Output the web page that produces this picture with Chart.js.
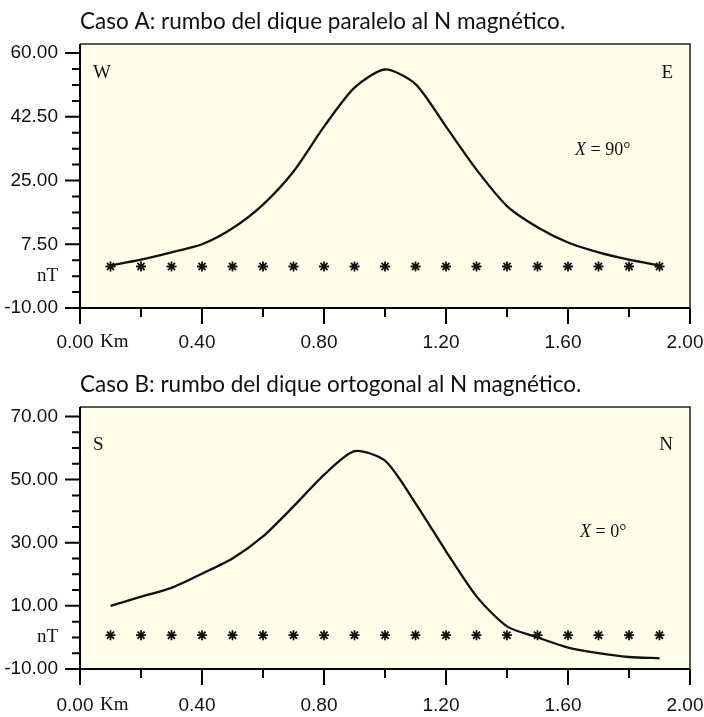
<!DOCTYPE html>
<html>
<head>
<meta charset="utf-8">
<script src="https://cdn.jsdelivr.net/npm/chart.js@4.4.1/dist/chart.umd.min.js"></script>
<style>
  body { margin: 0; background: #fff; }
  .wrap { position: absolute; left: 0; width: 704px; }
  canvas { display: block; }
</style>
</head>
<body>
<div class="wrap" style="top:0"><canvas id="chart-a" width="704" height="363"></canvas></div>
<div class="wrap" style="top:363px"><canvas id="chart-b" width="704" height="354"></canvas></div>
<script>
// distance along the profile (km)
const km = [0.1, 0.2, 0.3, 0.4, 0.5, 0.6, 0.7, 0.8, 0.9, 1.0, 1.1, 1.2, 1.3, 1.4, 1.5, 1.6, 1.7, 1.8, 1.9];

// Caso A: anomaly (nT)
const curveA = [1.7, 3.3, 5.3, 7.5, 11.9, 18.4, 27.5, 39.8, 50.5, 55.5, 51.5, 39.8, 28, 18, 12.2, 8, 5.3, 3.3, 1.7];
const starsA = [1.4, 1.4, 1.4, 1.4, 1.4, 1.4, 1.4, 1.4, 1.4, 1.4, 1.4, 1.4, 1.4, 1.4, 1.4, 1.4, 1.4, 1.4, 1.4];
const yTicksA = [-10, 7.5, 25, 42.5, 60];
const yMinorA = [-5.625, -1.25, 3.125, 11.875, 16.25, 20.625, 29.375, 33.75, 38.125, 46.875, 51.25, 55.625];

// Caso B: anomaly (nT)
const curveB = [10, 12.9, 15.7, 20.2, 25, 32, 41.5, 51.5, 59, 56, 42.5, 27.3, 13, 3.5, 0, -3.2, -5, -6.2, -6.6];
const starsB = [0.7, 0.7, 0.7, 0.7, 0.7, 0.7, 0.7, 0.7, 0.7, 0.7, 0.7, 0.7, 0.7, 0.7, 0.7, 0.7, 0.7, 0.7, 0.7];
const yTicksB = [-10, 10, 30, 50, 70];
const yMinorB = [-5, 0, 5, 15, 20, 25, 35, 40, 45, 55, 60, 65];

const xTicks = [0, 0.4, 0.8, 1.2, 1.6, 2.0];
const xMinor = [0.2, 0.6, 1.0, 1.4, 1.8];

const numFont = "'Liberation Sans', Arial, sans-serif";
const serif = "'Liberation Serif', 'DejaVu Serif', serif";
const paper = '#fffee8';

// plot background, box, tick marks and the small labels inside
const framePlugin = {
  id: 'frame',
  beforeDraw(chart) {
    const { ctx, chartArea: a } = chart;
    ctx.save();
    ctx.fillStyle = paper;
    ctx.fillRect(a.left, a.top, a.right - a.left, a.bottom - a.top);
    ctx.restore();
  },
  afterDraw(chart, args, o) {
    const { ctx, chartArea: a, scales: { x, y } } = chart;
    ctx.save();
    ctx.strokeStyle = '#222';
    ctx.lineWidth = 1.5;
    ctx.beginPath();
    ctx.moveTo(a.left, a.top); ctx.lineTo(a.right, a.top); ctx.lineTo(a.right, a.bottom);
    ctx.stroke();

    ctx.strokeStyle = '#000';
    ctx.lineWidth = 2;
    ctx.beginPath();
    ctx.moveTo(a.left, a.top); ctx.lineTo(a.left, a.bottom); ctx.lineTo(a.right, a.bottom);
    ctx.stroke();

    ctx.beginPath();
    o.yMajor.forEach(v => { const p = y.getPixelForValue(v); ctx.moveTo(a.left - 15, p); ctx.lineTo(a.left, p); });
    o.yMinor.forEach(v => { const p = y.getPixelForValue(v); ctx.moveTo(a.left - 8, p); ctx.lineTo(a.left + 1, p); });
    xTicks.forEach(v => { const p = x.getPixelForValue(v); ctx.moveTo(p, a.bottom); ctx.lineTo(p, a.bottom + 16); });
    xMinor.forEach(v => { const p = x.getPixelForValue(v); ctx.moveTo(p, a.bottom - 1); ctx.lineTo(p, a.bottom + 9); });
    ctx.stroke();

    ctx.fillStyle = '#111';
    ctx.font = '19px ' + serif;
    ctx.textBaseline = 'middle';
    ctx.textAlign = 'right';
    ctx.fillText('nT', a.left - 22, y.getPixelForValue(o.nT));
    ctx.textAlign = 'left';
    ctx.fillText('Km', a.left + 20, a.bottom + o.kmDy);

    ctx.textBaseline = 'alphabetic';
    ctx.font = '19px ' + serif;
    ctx.fillText(o.left, a.left + 13, a.top + o.cornerDy);
    ctx.textAlign = 'right';
    ctx.fillText(o.right, a.right - 17, a.top + o.cornerDy);

    ctx.textAlign = 'left';
    ctx.font = 'italic 18px ' + serif;
    ctx.fillText('X', a.left + o.angX, a.top + o.angDy);
    const w = ctx.measureText('X').width;
    ctx.font = '18px ' + serif;
    ctx.fillText(' = ' + o.angle, a.left + o.angX + w, a.top + o.angDy);
    ctx.restore();
  }
};

function makeChart(id, cfg) {
  const points = (ys) => km.map((k, i) => ({ x: k, y: ys[i] }));
  return new Chart(document.getElementById(id), {
    type: 'line',
    data: {
      datasets: [
        {
          data: points(cfg.curve),
          borderColor: '#111',
          borderWidth: 2.3,
          pointRadius: 0,
          tension: 0.25,
          fill: false,
        },
        {
          data: points(cfg.stars),
          showLine: false,
          pointStyle: 'star',
          pointRadius: 5,
          borderColor: '#111',
          borderWidth: 1.8,
        },
      ],
    },
    options: {
      responsive: false,
      animation: false,
      layout: { padding: { left: 0, right: 14, top: 0, bottom: 0 } },
      plugins: {
        legend: { display: false },
        tooltip: { enabled: false },
        title: {
          display: true,
          text: cfg.title,
          align: 'start',
          fullSize: false,
          color: '#111',
          font: { family: 'Lato, sans-serif', size: 22.5, weight: 'normal' },
          padding: { top: 8.5, bottom: 8.5 },
        },
        frame: cfg.frame,
      },
      scales: {
        x: {
          type: 'linear',
          min: 0, max: 2,
          border: { display: false },
          grid: { display: false, drawTicks: false },
          afterBuildTicks: s => { s.ticks = xTicks.map(v => ({ value: v })); },
          afterFit: s => { s.height = cfg.xHeight; s.paddingLeft = 0; s.paddingRight = 0; },
          ticks: {
            padding: cfg.xPad,
            labelOffset: -5,
            color: '#111',
            font: { family: numFont, size: 19 },
            callback: v => v.toFixed(2),
          },
        },
        y: {
          min: -10, max: cfg.yMax,
          border: { display: false },
          grid: { display: false, drawTicks: false },
          afterBuildTicks: s => { s.ticks = cfg.yMajor.map(v => ({ value: v })); },
          afterFit: s => { s.width = 80; s.paddingTop = 0; s.paddingBottom = 0; },
          ticks: {
            padding: 22,
            color: '#111',
            font: { family: numFont, size: 19 },
            callback: v => v.toFixed(2),
          },
        },
      },
    },
    plugins: [framePlugin],
  });
}

makeChart('chart-a', {
  title: 'Caso A: rumbo del dique paralelo al N magnético.',
  curve: curveA, stars: starsA, yMax: 62.5, yMajor: yTicksA,
  xHeight: 55, xPad: 23,
  frame: { yMajor: yTicksA, yMinor: yMinorA, nT: -1.25, kmDy: 34, left: 'W', right: 'E',
           cornerDy: 34, angX: 495, angDy: 111, angle: '90°' },
});

makeChart('chart-b', {
  title: 'Caso B: rumbo del dique ortogonal al N magnético.',
  curve: curveB, stars: starsB, yMax: 73, yMajor: yTicksB,
  xHeight: 48, xPad: 25,
  frame: { yMajor: yTicksB, yMinor: yMinorB, nT: 0, kmDy: 36, left: 'S', right: 'N',
           cornerDy: 43, angX: 500, angDy: 130, angle: '0°' },
});
</script>
</body>
</html>
